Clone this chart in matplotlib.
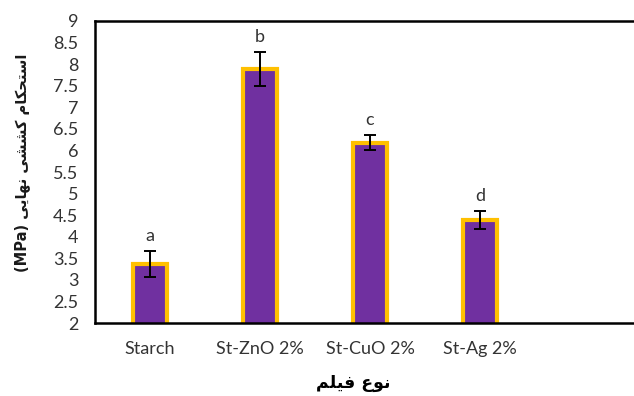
import matplotlib
matplotlib.use('Agg')
import matplotlib.pyplot as plt

# data
categories = ['Starch', 'St-ZnO 2%', 'St-CuO 2%', 'St-Ag 2%']
strength = [3.37, 7.89, 6.18, 4.39]
errors = [0.30, 0.40, 0.17, 0.21]
letters = ['a', 'b', 'c', 'd']

# Persian labels written with presentation forms in visual order
x_title = 'ﻢﻠﯿﻓ ﻉﻮﻧ'                          # نوع فیلم
y_title = '(MPa) ﯽﯾﺎﻬﻧ ﯽﺸﺸﮐ ﻡﺎﮑﺤﺘﺳﺍ'          # استحکام کششی نهایی (MPa)

fig = plt.figure(figsize=(6.34, 3.96), dpi=100)
ax = fig.add_axes([0.150, 0.184, 0.867, 0.763])

pos = list(range(len(categories)))
ax.bar(pos, strength, width=0.31, color='#7030A0', edgecolor='#FFC000',
       linewidth=3.0, zorder=2)
ax.errorbar(pos, strength, yerr=errors, fmt='none', ecolor='black',
            elinewidth=1.4, capsize=4, capthick=1.4, zorder=3)

for p, v, e, s in zip(pos, strength, errors, letters):
    ax.annotate(s, (p, v + e), xytext=(0, 5), textcoords='offset points',
                ha='center', va='bottom', fontsize=13, family='Lato',
                color='#333333')

ax.set_xlim(-0.5, 4.5)
ax.set_ylim(2, 9)
ax.set_yticks([2 + 0.5 * i for i in range(15)])
ax.set_yticklabels([f'{2 + 0.5 * i:g}' for i in range(15)])
ax.set_xticks(pos)
ax.set_xticklabels(categories)

for lab in ax.get_xticklabels() + ax.get_yticklabels():
    lab.set_family('Lato')
    lab.set_fontsize(13)
    lab.set_color('#333333')
ax.tick_params(axis='y', length=0, pad=12)
ax.tick_params(axis='x', length=0, pad=13)

for side in ['left', 'top', 'bottom', 'right']:
    ax.spines[side].set_linewidth(1.8)
    ax.spines[side].set_color('black')

fig.text(353 / 634, 1 - 383 / 396, x_title, ha='center', va='center',
         fontsize=12.5, fontweight='bold', family='DejaVu Sans')
fig.text(22 / 634, 1 - 163 / 396, y_title, ha='center', va='center',
         rotation=90, fontsize=10.5, fontweight='bold', family='DejaVu Sans',
         color='#1a1a1a')

plt.savefig('out.png', dpi=100)
